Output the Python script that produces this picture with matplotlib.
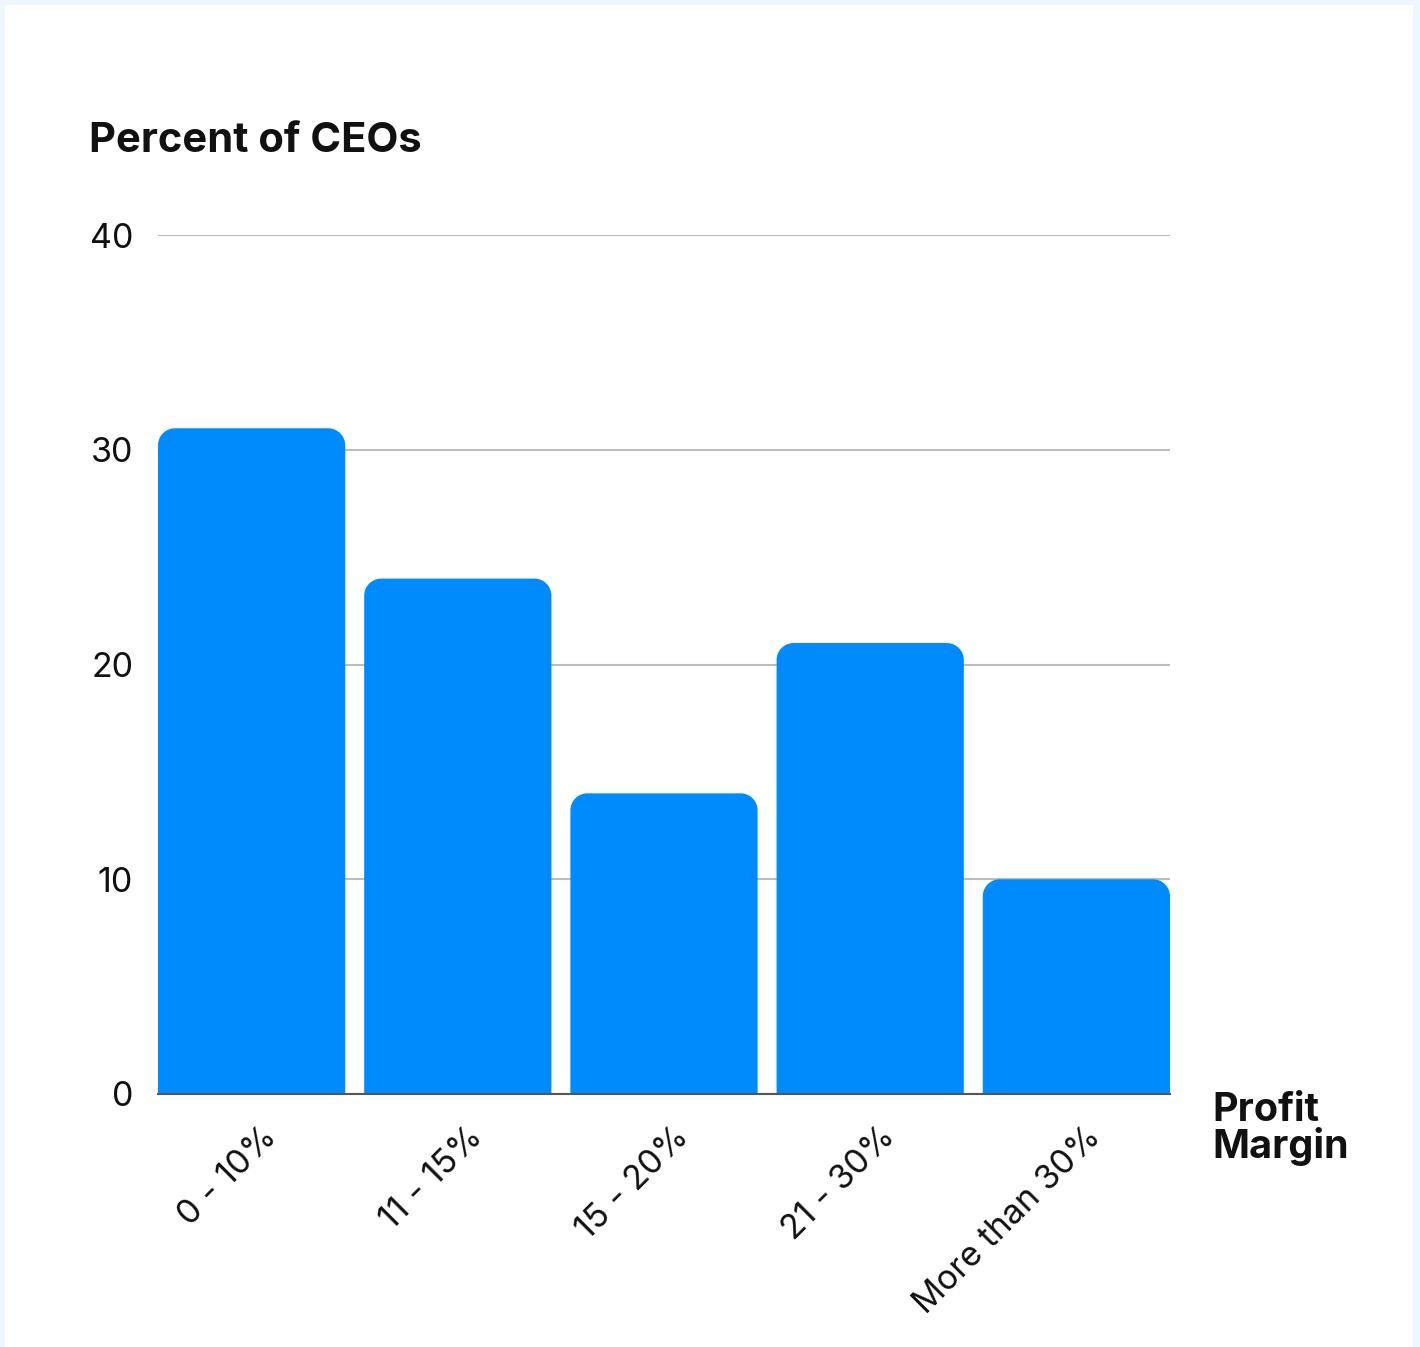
import matplotlib
matplotlib.use("Agg")
import matplotlib.pyplot as plt
import matplotlib.transforms as mtransforms
from matplotlib.path import Path
from matplotlib.patches import PathPatch, Rectangle

categories = ["0 - 10%", "11 - 15%", "15 - 20%", "21 - 30%", "More than 30%"]
values = [31, 24, 14, 21, 10]
yticks = [0, 10, 20, 30, 40]
title = "Percent of CEOs"
xlabel = "Profit\nMargin"

plt.rcParams['font.family'] = ['Inter', 'DejaVu Sans']

W, H, DPI = 1420, 1347, 100
fig = plt.figure(figsize=(W / DPI, H / DPI), dpi=DPI)
fig.patch.set_facecolor('#eef6fe')
fig.add_artist(Rectangle((5 / W, 0), (1413 - 5) / W, (H - 5) / H,
                         transform=fig.transFigure, facecolor='white',
                         edgecolor='none', zorder=0))

ax = fig.add_axes([158 / W, 253 / H, (1170 - 158) / W, (1094 - 235) / H])
ax.set_facecolor('none')
ax.set_xlim(-0.454, len(categories) - 1 + 0.454)
ax.set_ylim(0, 40)

bars = ax.bar(range(len(categories)), values, width=0.908, color='#008bfd', zorder=2)

# rounded top corners
fig.canvas.draw()
r_px = 17
bbox = ax.get_window_extent()
xr = ax.get_xlim()[1] - ax.get_xlim()[0]
yr = ax.get_ylim()[1] - ax.get_ylim()[0]
rx = r_px * xr / bbox.width
ry = r_px * yr / bbox.height
k = 0.5523
for b in bars:
    x0, w, h = b.get_x(), b.get_width(), b.get_height()
    x1 = x0 + w
    verts = [
        (x0, 0), (x0, h - ry),
        (x0, h - ry + k * ry), (x0 + rx - k * rx, h), (x0 + rx, h),
        (x1 - rx, h),
        (x1 - rx + k * rx, h), (x1, h - ry + k * ry), (x1, h - ry),
        (x1, 0), (x0, 0)]
    codes = [Path.MOVETO, Path.LINETO,
             Path.CURVE4, Path.CURVE4, Path.CURVE4,
             Path.LINETO,
             Path.CURVE4, Path.CURVE4, Path.CURVE4,
             Path.LINETO, Path.CLOSEPOLY]
    p = PathPatch(Path(verts, codes), facecolor=b.get_facecolor(),
                  edgecolor='none', zorder=2)
    ax.add_patch(p)
    b.remove()

ax.set_yticks(yticks)
ax.set_yticklabels([str(t) for t in yticks])
ax.yaxis.grid(True, color='#bdbdbd', linewidth=1.5, zorder=0)
ax.set_axisbelow(True)
for s in ['top', 'right', 'left']:
    ax.spines[s].set_visible(False)
ax.spines['bottom'].set_color('#555555')
ax.spines['bottom'].set_linewidth(1.5)
ax.spines['bottom'].set_zorder(3)
ax.tick_params(axis='y', length=0, pad=18, labelsize=24.5, labelcolor='#111111')
ax.tick_params(axis='x', length=0)
ax.set_xticks(range(len(categories)))
ax.set_xticklabels([])

offset = mtransforms.ScaledTranslation(20 / DPI, -38 / DPI, fig.dpi_scale_trans)
trans = mtransforms.blended_transform_factory(ax.transData, ax.transAxes) + offset
for i, c in enumerate(categories):
    ax.text(i, 0, c, rotation=45, rotation_mode='anchor', ha='right', va='center',
            transform=trans, fontsize=24.5, color='#111111')

fig.text(89 / W, (H - 152) / H, title, fontsize=30, fontweight='bold',
         ha='left', va='baseline', color='#111111')
fig.text(1212 / W, (H - 1092) / H, xlabel, fontsize=28.5, fontweight='bold',
         ha='left', va='top', color='#111111', linespacing=0.95)

fig.savefig('out.png', dpi=DPI, facecolor=fig.get_facecolor())
